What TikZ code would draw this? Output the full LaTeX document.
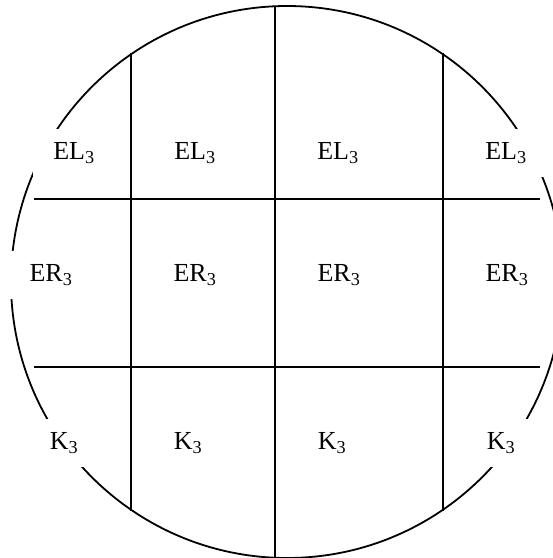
\documentclass[tikz,border=0pt]{standalone}
\usepackage{fontspec}
\setmainfont{Liberation Serif}
\usepackage{tikz}
\usetikzlibrary{calc}
\tikzset{every node/.append style={font=\fontsize{26}{30}\selectfont}}
\tikzset{cell/.style={fill=white, inner xsep=20pt, inner ysep=0pt, minimum height=48pt}}

\begin{document}
\begin{tikzpicture}[x=1pt, y=-1pt, line width=1.8pt]
    \useasboundingbox (0,0) rectangle (553,558);
    \clip (0,0) rectangle (553,558);
    % wafer outline
    \coordinate (c) at (287,282);
    \draw (c) circle (276);
    % grid: horizontal cuts
    \coordinate (h1a) at (34,199);
    \coordinate (h1b) at (540,199);
    \coordinate (h2a) at (34,367);
    \coordinate (h2b) at (540,367);
    \draw (h1a) -- (h1b);
    \draw (h2a) -- (h2b);
    % grid: vertical cuts, ending on the outline
    \coordinate (v1a) at (131,53);
    \coordinate (v1b) at (131,511);
    \coordinate (v2a) at (275,6);
    \coordinate (v2b) at (275,558);
    \coordinate (v3a) at (443,53);
    \coordinate (v3b) at (443,511);
    \draw (v1a) -- (v1b);
    \draw (v2a) -- (v2b);
    \draw (v3a) -- (v3b);
    % labels, top row
    \node[cell] (el1) at (74,153) {EL\textsubscript{3}};
    \node[cell] (el2) at (195,153) {EL\textsubscript{3}};
    \node[cell] (el3) at (338,153) {EL\textsubscript{3}};
    \node[cell] (el4) at (506,153) {EL\textsubscript{3}};
    % middle row
    \node[cell] (er1) at (51,275) {ER\textsubscript{3}};
    \node[cell] (er2) at (195,275) {ER\textsubscript{3}};
    \node[cell] (er3) at (339,275) {ER\textsubscript{3}};
    \node[cell] (er4) at (507,275) {ER\textsubscript{3}};
    % bottom row
    \node[cell] (k1) at (64,443) {K\textsubscript{3}};
    \node[cell] (k2) at (188,443) {K\textsubscript{3}};
    \node[cell] (k3) at (332,443) {K\textsubscript{3}};
    \node[cell] (k4) at (501,443) {K\textsubscript{3}};
\end{tikzpicture}
\end{document}
